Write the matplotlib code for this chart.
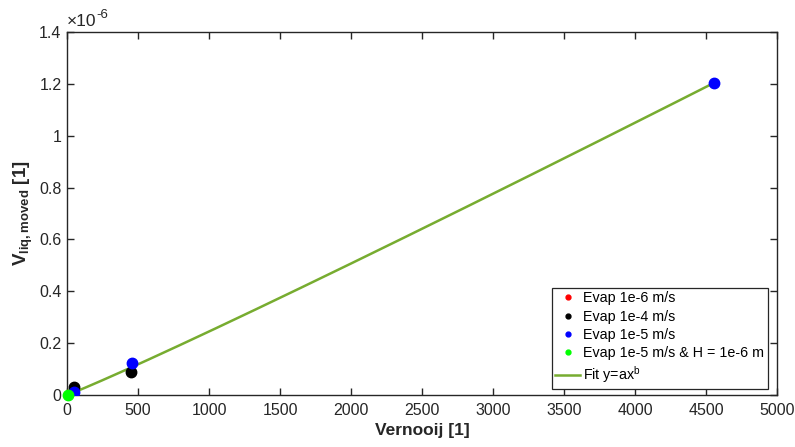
import numpy as np
import matplotlib
matplotlib.use("Agg")
import matplotlib.pyplot as plt
from matplotlib.lines import Line2D
from matplotlib.ticker import FuncFormatter, MultipleLocator

plt.rcParams['font.family'] = ['Liberation Sans', 'DejaVu Sans']
plt.rcParams['mathtext.fontset'] = 'custom'
plt.rcParams['mathtext.rm'] = 'Liberation Sans'
plt.rcParams['mathtext.it'] = 'Liberation Sans'
plt.rcParams['mathtext.bf'] = 'Liberation Sans:bold'

# Simulation results: Vernooij number vs. moved liquid volume
evap_1e6_x = [4.5]
evap_1e6_y = [0.0010e-6]
evap_1e4_x = [49, 451]
evap_1e4_y = [0.031e-6, 0.089e-6]
evap_1e5_x = [46, 458, 4556]
evap_1e5_y = [0.012e-6, 0.123e-6, 1.203e-6]
evap_1e5_h_x = [5]
evap_1e5_h_y = [0.0012e-6]

# Power-law fit y = a * x^b
fit_a = 1.734e-10
fit_b = 1.05

fig = plt.figure(figsize=(7.95, 4.47), dpi=100)
ax = fig.add_axes([0.0843, 0.1163, 0.8931, 0.8121])

all_x = evap_1e6_x + evap_1e4_x + evap_1e5_x + evap_1e5_h_x
xf = np.linspace(min(all_x), max(all_x), 400)
ax.plot(xf, fit_a * xf ** fit_b, color='#77AC30', lw=1.8, zorder=2)

ms = 7.5
ax.plot(evap_1e6_x, evap_1e6_y, 'o', color='#FF0000', ms=ms, zorder=3)
ax.plot(evap_1e4_x, evap_1e4_y, 'o', color='#000000', ms=ms, zorder=3)
ax.plot(evap_1e5_x, evap_1e5_y, 'o', color='#0000FF', ms=ms, zorder=3)
ax.plot(evap_1e5_h_x, evap_1e5_h_y, 'o', color='#00FF00', ms=ms, zorder=4, clip_on=False)

ax.set_xlim(0, 5000)
ax.set_ylim(0, 1.4e-6)
ax.xaxis.set_major_locator(MultipleLocator(500))
ax.yaxis.set_major_locator(MultipleLocator(0.2e-6))
ax.yaxis.set_major_formatter(FuncFormatter(lambda v, p: f'{v * 1e6:g}'))

ax.tick_params(direction='in', length=5, width=1, colors='#262626',
               labelsize=11.5, top=True, right=True)
ax.tick_params(axis='x', pad=6)
ax.tick_params(axis='y', pad=4)
for s in ax.spines.values():
    s.set_color('#262626')
    s.set_linewidth(1.0)

# scale factor shown above the y axis
ax.text(0.0, 1.008, '\u00d710', transform=ax.transAxes,
        fontsize=12.5, color='#262626', ha='left', va='bottom')
ax.text(0.042, 1.030, '-6', transform=ax.transAxes,
        fontsize=9.5, color='#262626', ha='left', va='bottom')

ax.set_xlabel('Vernooij [1]', fontsize=12.5, fontweight='bold', color='#262626', labelpad=3)
ax.set_ylabel(r'$\mathbf{V}_{\mathbf{liq,moved}}$ [1]', fontsize=13.5,
              fontweight='bold', color='#262626', labelpad=3)

handles = [
    Line2D([], [], ls='none', marker='o', color='#FF0000', ms=3.5),
    Line2D([], [], ls='none', marker='o', color='#000000', ms=3.5),
    Line2D([], [], ls='none', marker='o', color='#0000FF', ms=3.5),
    Line2D([], [], ls='none', marker='o', color='#00FF00', ms=3.5),
    Line2D([], [], color='#77AC30', lw=1.8),
]
labels = ['Evap 1e-6 m/s', 'Evap 1e-4 m/s', 'Evap 1e-5 m/s',
          'Evap 1e-5 m/s & H = 1e-6 m', r'Fit y=ax$^{\mathregular{b}}$']
leg = ax.legend(handles, labels, loc='lower right', bbox_to_anchor=(0.966, 0.1298),
                bbox_transform=fig.transFigure, borderaxespad=0, fontsize=10.3,
                fancybox=False, framealpha=1, edgecolor='#262626',
                handlelength=1.7, handletextpad=0.25, labelspacing=0.3,
                borderpad=0.25)
leg.get_frame().set_linewidth(0.9)
for t in leg.get_texts():
    t.set_color('#000000')

fig.savefig('out.png', dpi=100)
